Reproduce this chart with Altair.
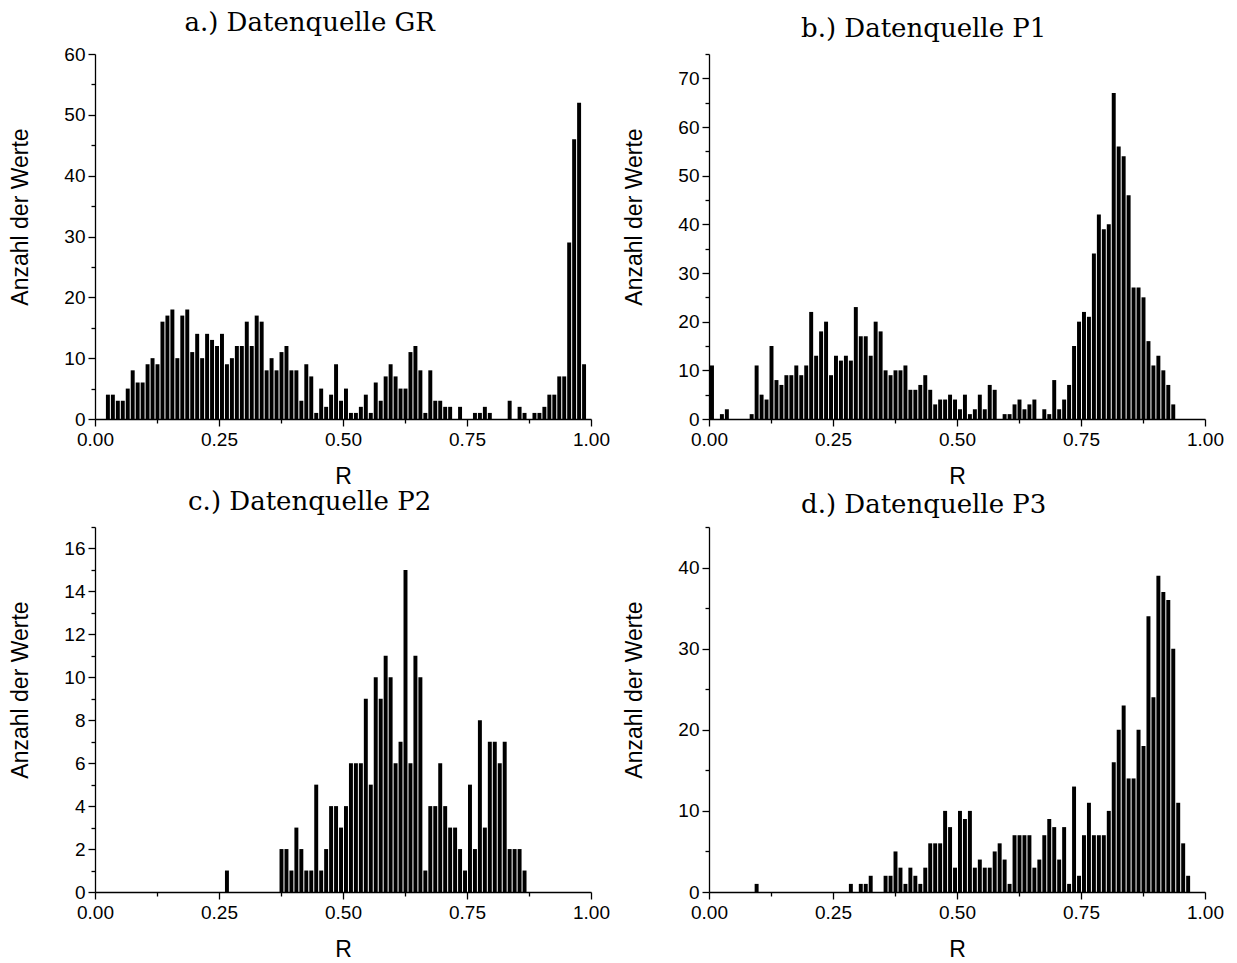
import altair as alt
import pandas as pd

BIN_WIDTH = 0.01
bin_starts = [round(i * BIN_WIDTH, 2) for i in range(100)]

# counts per bin [0.00,0.01), [0.01,0.02), ... [0.99,1.00)
counts_gr = [0, 0,
             4, 4, 3, 3, 5, 8, 6, 6, 9, 10, 9, 16, 17, 18, 10, 17, 18, 11, 14, 10, 14, 13, 12, 14,
             9, 10, 12, 12, 16, 12, 17, 16, 8, 10, 8, 11, 12, 8, 8, 3, 9, 7, 1, 5, 2, 4, 9, 3, 5, 1,
             1, 2, 4, 1, 6, 3, 7, 9, 7, 5, 5, 11, 12, 8, 1, 8, 3, 3, 2, 2,
             0, 2, 0, 0, 1, 1, 2, 1, 0, 0, 0, 3, 0, 2, 1, 0, 1, 1, 2, 4,
             4, 7, 7, 29, 46, 52, 9, 0]

counts_p1 = [11, 0, 1, 2, 0, 0, 0, 0, 1, 11,
             5, 4, 15, 8, 7, 9, 9, 11, 9, 11,
             22, 13, 18, 20, 9, 13, 12, 13, 12, 23,
             17, 17, 13, 20, 18, 10, 9, 10, 10, 11,
             6, 6, 7, 9, 6, 3, 4, 4, 5, 4,
             2, 5, 1, 2, 5, 2, 7, 6, 0, 1,
             1, 3, 4, 2, 3, 4, 0, 2, 1, 8,
             2, 4, 7, 15, 20, 22, 21, 34, 42, 39,
             40, 67, 56, 54, 46, 27, 27, 25, 16, 11,
             13, 10, 7, 3, 0, 0, 0, 0, 0, 0]

counts_p2 = [0, 0, 0, 0, 0, 0, 0, 0, 0, 0,
             0, 0, 0, 0, 0, 0, 0, 0, 0, 0,
             0, 0, 0, 0, 0, 0, 1, 0, 0, 0,
             0, 0, 0, 0, 0, 0, 0, 2, 2, 1,
             3, 2, 1, 1, 5, 1, 2, 4, 4, 3,
             4, 6, 6, 6, 9, 5, 10, 9, 11, 10,
             6, 7, 15, 6, 11, 10, 1, 4, 4, 6,
             4, 3, 3, 2, 1, 5, 2, 8, 3, 7,
             7, 6, 7, 2, 2, 2, 1, 0, 0, 0,
             0, 0, 0, 0, 0, 0, 0, 0, 0, 0]

counts_p3 = [0, 0, 0, 0, 0, 0, 0, 0, 0, 1,
             0, 0, 0, 0, 0, 0, 0, 0, 0, 0,
             0, 0, 0, 0, 0, 0, 0, 0, 1, 0,
             1, 1, 2, 0, 0, 2, 2, 5, 3, 1,
             3, 2, 1, 3, 6, 6, 6, 10, 8, 3,
             10, 9, 10, 3, 4, 3, 3, 5, 6, 4,
             1, 7, 7, 7, 7, 3, 4, 7, 9, 8,
             4, 8, 1, 13, 2, 7, 11, 7, 7, 7,
             10, 16, 20, 23, 14, 14, 20, 18, 34, 24,
             39, 37, 36, 30, 11, 6, 2, 0, 0, 0]

titles = ["a.) Datenquelle GR", "b.) Datenquelle P1",
          "c.) Datenquelle P2", "d.) Datenquelle P3"]
title_offsets = [9, 11, 11, 8]
y_max = [60, 75, 17, 45]
y_major = [10, 10, 2, 10]
y_minor = [5, 5, 1, 5]
x_ticks = [i * 0.125 for i in range(9)]

SANS = "Liberation Sans"
SERIF = "DejaVu Serif"
W, H = 496, 365

x_major_test = "abs(datum.value*4 - round(datum.value*4)) < 0.001"


def panel(counts, title, offset, ymax, major, minor):
    df = pd.DataFrame({"start": bin_starts, "count": counts})
    df = df[df["count"] > 0]
    yvals = list(range(0, ymax + 1, minor))
    y_test = f"datum.value % {major} == 0"
    return (
        alt.Chart(df)
        .transform_calculate(end=f"datum.start + {BIN_WIDTH}")
        .mark_bar(color="black", binSpacing=1)
        .encode(
            x=alt.X(
                "start:Q", bin="binned",
                scale=alt.Scale(domain=[0, 1], nice=False, zero=False, padding=0),
                axis=alt.Axis(
                    values=x_ticks, title="R", labelFlush=False,
                    labelExpr=f"{x_major_test} ? format(datum.value, '.2f') : ''",
                    tickSize={"condition": {"test": x_major_test, "value": 7}, "value": 4},
                    labelPadding=4, titlePadding=16,
                ),
            ),
            x2="end:Q",
            y=alt.Y(
                "count:Q",
                scale=alt.Scale(domain=[0, ymax], nice=False, padding=0),
                axis=alt.Axis(
                    values=yvals, title="Anzahl der Werte", labelFlush=False,
                    labelExpr=f"{y_test} ? format(datum.value, 'd') : ''",
                    tickSize={"condition": {"test": y_test, "value": 7}, "value": 4},
                    labelPadding=3, titlePadding=31, titleY=H / 2 - 20,
                ),
            ),
        )
        .properties(
            width=W, height=H,
            title=alt.TitleParams(title, font=SERIF, fontSize=26, frame="bounds",
                                  fontWeight="normal", color="black", offset=offset),
        )
    )


charts = [panel(*args) for args in
          zip([counts_gr, counts_p1, counts_p2, counts_p3], titles, title_offsets,
              y_max, y_major, y_minor)]

chart = (
    alt.concat(*charts, columns=2, spacing={"row": 108, "column": 118}, bounds="flush")
    .properties(padding={"left": 1, "top": 2, "right": 5, "bottom": 5})
    .configure_view(stroke=None)
    .configure_axis(
        grid=False, domainColor="black", domainWidth=1.3, tickColor="black",
        tickWidth=1.3, labelColor="black", titleColor="black",
        labelFont=SANS, titleFont=SANS, labelFontSize=19, titleFontSize=23,
        titleFontWeight="normal",
    )
)

chart.save("out.html", embed_options={"renderer": "svg", "actions": False})
